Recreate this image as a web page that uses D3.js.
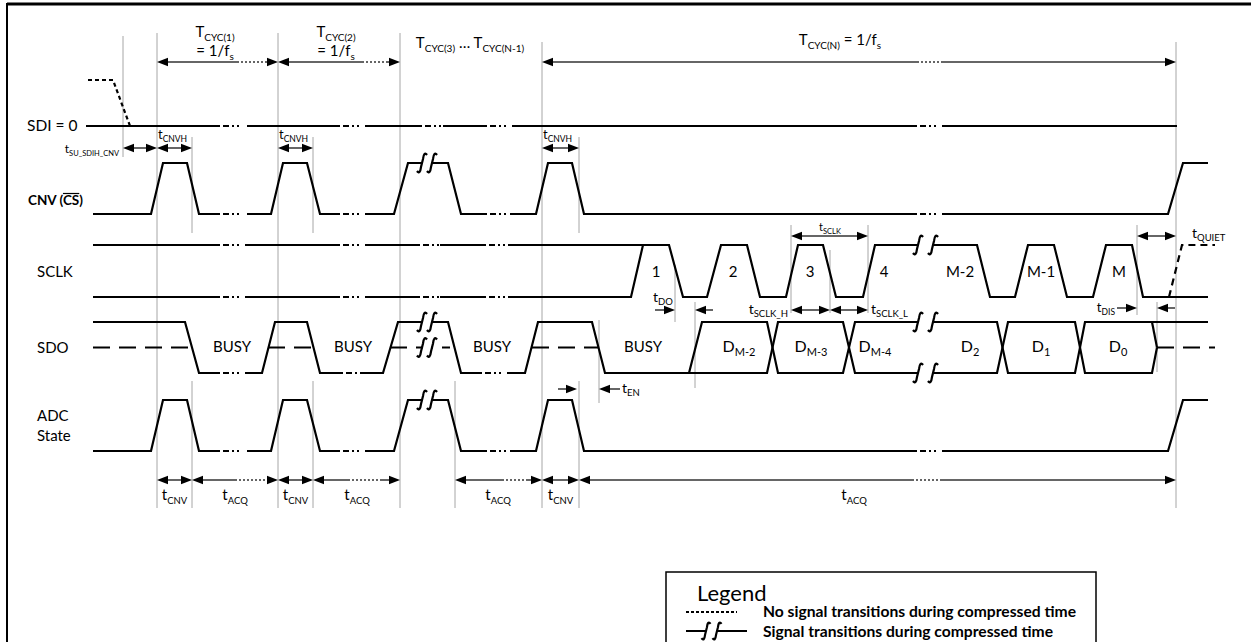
<!DOCTYPE html>
<html><head><meta charset="utf-8">
<script src="https://cdn.jsdelivr.net/npm/d3@7"></script>
<style>
html,body{margin:0;padding:0;background:#fff;}
svg{display:block;font-family:Lato,'Open Sans',sans-serif;}
</style></head><body>
<svg id="c" width="1251" height="642"></svg>
<script>
// ================= DATA (time units along the diagram) =================
const signalNames = ["SDI = 0", "CNV", "SCLK", "SDO", "ADC", "State"];
const sdiLevel = [[86,0],[1177,0]];
const sdiPreDashed = [[88,1],[113,1],[130,0]];
const cnvWave = [[93,0],[151,0],[163,1],[187,1],[199,0],[271,0],[283,1],[307,1],[320,0],[394,0],[408,1],[448,1],[461,0],[536,0],[548,1],[572,1],[584,0],[1168,0],[1183,1],[1208,1]];
const sclkIdleHigh = [[93,1],[643,1]];
const sclkWave = [[93,0],[631,0],[643,1],[669,1],[683,0],[707,0],[721,1],[747,1],[760,0],[786,0],[798,1],[823,1],[836,0],[863,0],[875,1],[977,1],[990,0],[1015,0],[1028,1],[1054,1],[1067,0],[1093,0],[1106,1],[1132,1],[1143,0],[1208,0]];
const sclkQuietDashed = [[1169,0],[1182,1],[1215,1]];
const sclkPulseLabels = ["1","2","3","4","M-2","M-1","M"];
const sclkPulseTimes = [656,733,810,884,960,1041,1119];
const sdoWaveA = [[93,1],[185,1],[199,0],[262,0],[275,1],[307,1],[320,0],[383,0],[398,1],[448,1],[461,0],[525,0],[538,1],[592,1],[605,0],[767,0],[778,1],[843,1],[855,0],[997,0],[1008,1],[1075,1],[1085,0],[1152,0],[1157,0.5]];
const sdoWaveB = [[689,0],[702,1],[767,1],[778,0],[843,0],[855,1],[997,1],[1008,0],[1075,0],[1085,1],[1208,1]];
const sdoD0Close = [[1152,1],[1157,0.5]];
const sdoTriState = [[93,190],[268,313],[390,450],[532,598],[1157,1215]];
const busyTimes = [232,353,492,643];
const dataLabels = ["D_{M-2}","D_{M-3}","D_{M-4}","D_{2}","D_{1}","D_{0}"];
const dataTimes = [739,811,875,970,1041,1118];
const adcWave = [[93,0],[151,0],[163,1],[187,1],[199,0],[271,0],[283,1],[307,1],[320,0],[394,0],[408,1],[448,1],[461,0],[536,0],[548,1],[572,1],[584,0],[1168,0],[1183,1],[1208,1]];

// compressed-time gaps [t0, t1, level]
const sdiGaps = [[220,247,0],[340,365,0],[422,443,0],[487,512,0],[917,942,0]];
const cnvGaps = [[220,247,0],[340,365,0],[487,510,0],[917,942,0]];
const sclkGaps = [[220,245,1],[340,365,1],[420,440,1],[486,508,1],[220,245,0],[340,365,0],[420,440,0],[486,508,0]];
const sdoGaps = [[220,245,0],[343,362,0],[482,507,0]];
const adcGaps = [[220,247,0],[340,365,0],[487,510,0],[917,942,0]];
// signal-transition breaks [t0, t1, level]
const cnvBreaks = [[422,432,1]];
const sclkBreaks = [[918,933,1]];
const sdoBreaks = [[422,432,1],[422,432,0.5],[918,933,1],[918,933,0]];
const adcBreaks = [[422,432,1]];

// timing spans [start, end, dottedStart, dottedEnd]
const tcycSpans = [[157,278,237,267],[278,400,362,388],[542,1176,917,942]];
const tcycLabels = ["T_{CYC(1)}","T_{CYC(2)}","T_{CYC(3)} … T_{CYC(N-1)}","T_{CYC(N)} = 1/f_{s}"];
const tsuSpan = [123,157];
const tcnvhSpans = [[157,192],[278,313],[542,579]];
const tcnvSpans = [[157,192],[278,313],[542,579]];
const tacqSpans = [[192,278,235,267],[313,400,348,380],[455,542,502,526],[579,1176,912,940]];
const tacqLabelTimes = [235,357,498,854];
const tsclkSpan = [791,868];
const tsclkHSpan = [791,830];
const tsclkLSpan = [830,868];
const tquietSpan = [1137,1176];
const legendItems = ["No signal transitions during compressed time","Signal transitions during compressed time"];

// ================= SCALES =================
const svg = d3.select('#c');
const x = d3.scaleLinear().domain([0,1251]).range([0,1251]);
const row = (low, high) => d3.scaleLinear().domain([0,1]).range([low, high]);
const ySDI = row(126,80), yCNV = row(214,163), ySCLK = row(297,245), ySDO = row(373,322), yADC = row(451,400);
const yBottomArrow = 480, yBottomLabel = 500, yGuideEnd = 508;

const FG = '#000', GUIDE = '#a6a6a6', ARW = '#333';
const WW = 2.2;

// frame
svg.append('line').attr('x1',7).attr('x2',1251).attr('y1',4).attr('y2',4).attr('stroke','#000').attr('stroke-width',3);
svg.append('line').attr('x1',7).attr('x2',7).attr('y1',3).attr('y2',642).attr('stroke','#000').attr('stroke-width',2);

// ================= GUIDES =================
const gG = svg.append('g').attr('stroke',GUIDE).attr('stroke-width',1);
function vguide(t, y0, y1){ gG.append('line').attr('x1',x(t)).attr('x2',x(t)).attr('y1',y0).attr('y2',y1); }
[157,278,400].forEach(t=>vguide(t,33,yGuideEnd));
[542,1176].forEach(t=>vguide(t,42,yGuideEnd));
vguide(123,36,157);
[192,313,579].forEach(t=>{ vguide(t,137,233); vguide(t,381,yGuideEnd); });
vguide(455,381,yGuideEnd);
vguide(599,320,403);
vguide(675,265,322);
vguide(695,302,388);
vguide(791,225,313);
vguide(830,250,313);
vguide(868,225,313);
vguide(1137,225,315);
vguide(1157,302,372);

// ================= WAVEFORMS =================
const gW = svg.append('g').attr('fill','none').attr('stroke',FG).attr('stroke-width',WW).attr('stroke-linejoin','miter');
function wave(data, ys, dash){
  const p = gW.append('path').attr('d', d3.line().x(d=>x(d[0])).y(d=>ys(d[1]))(data));
  if (dash) p.attr('stroke-dasharray', dash);
  return p;
}
wave(sdiLevel, ySDI);
wave(sdiPreDashed, ySDI, '4,3');
wave(cnvWave, yCNV);
wave(sclkIdleHigh, ySCLK);
wave(sclkWave, ySCLK);
wave(sclkQuietDashed, ySCLK, '7,5');
wave(sdoWaveA, ySDO);
wave(sdoWaveB, ySDO);
wave(sdoD0Close, ySDO);
sdoTriState.forEach(s => wave([[s[0],0.5],[s[1],0.5]], ySDO, '17,9'));
wave(adcWave, yADC);

// compressed-time gaps
const gGap = svg.append('g');
function gaps(list, ys){
  list.forEach(([t0,t1,lv])=>{
    const y = ys(lv), x0 = x(t0), x1 = x(t1);
    gGap.append('rect').attr('x',x0).attr('y',y-3).attr('width',x1-x0).attr('height',6).attr('fill','#fff');
    gGap.append('line').attr('x1',x0).attr('x2',x1).attr('y1',y).attr('y2',y)
      .attr('stroke',FG).attr('stroke-width',WW).attr('stroke-dasharray',`0,3,6,3,2,3,2,${Math.max(2,x1-x0-19)}`);
  });
}
gaps(sdiGaps, ySDI); gaps(cnvGaps, yCNV); gaps(sclkGaps, ySCLK); gaps(sdoGaps, ySDO); gaps(adcGaps, yADC);

// signal transition breaks (double integral symbol)
function integral(g, px, py, s){
  s = s || 1;
  g.append('path').attr('d', `M${px-5*s},${py+8*s} Q${px-2*s},${py+12*s} ${px-1*s},${py+4*s} L${px+1*s},${py-4*s} Q${px+2*s},${py-12*s} ${px+5*s},${py-8*s}`)
    .attr('fill','none').attr('stroke',FG).attr('stroke-width',WW);
}
function breaks(list, ys){
  list.forEach(([t0,t1,lv])=>{
    const y = ys(lv), x0 = x(t0), x1 = x(t1);
    gGap.append('rect').attr('x',x0+0.5).attr('y',y-3).attr('width',x1-x0-1).attr('height',6).attr('fill','#fff');
    integral(gGap, x0, y); integral(gGap, x1, y);
  });
}
breaks(cnvBreaks, yCNV); breaks(sclkBreaks, ySCLK); breaks(sdoBreaks, ySDO); breaks(adcBreaks, yADC);

// ================= TEXT =================
const gT = svg.append('g').attr('fill','#000');
function rich(str, px, py, size, anchor, opts){
  opts = opts || {};
  const sub = opts.sub || size*0.68, dy = size*0.24;
  const t = gT.append('text').attr('x',px).attr('y',py).attr('font-size',size).attr('text-anchor',anchor||'start');
  if (opts.weight) t.attr('font-weight', opts.weight);
  const re = /_\{([^}]*)\}/g; let last = 0, m, shifted = false;
  while ((m = re.exec(str))) {
    if (m.index > last) { t.append('tspan').attr('dy', shifted ? -dy : 0).text(str.slice(last, m.index)); shifted = false; }
    t.append('tspan').attr('font-size', sub).attr('dy', shifted ? 0 : dy).text(m[1]); shifted = true;
    last = re.lastIndex;
  }
  if (last < str.length) t.append('tspan').attr('dy', shifted ? -dy : 0).text(str.slice(last));
  return t;
}

// ================= ARROWS =================
const gA = svg.append('g');
const AL = 11, AW = 4.3;
function head(px, py, dir){
  gA.append('path').attr('d',`M${px},${py}L${px-dir*AL},${py-AW}L${px-dir*AL},${py+AW}Z`).attr('fill','#000');
}
function seg(a, b, y, dash){
  const l = gA.append('line').attr('x1',a).attr('x2',b).attr('y1',y).attr('y2',y).attr('stroke',ARW).attr('stroke-width',1.5);
  if (dash) l.attr('stroke-dasharray', dash);
}
function dim(t0, t1, y, o){
  o = o || {};
  const start = o.start !== false, end = o.end !== false;
  const x0 = x(t0), x1 = x(t1);
  const a = start ? x0 + AL - 1 : x0, b = end ? x1 - AL + 1 : x1;
  if (o.dotted) { seg(a, x(o.dotted[0]), y); seg(x(o.dotted[0]), x(o.dotted[1]), y, '2,2'); seg(x(o.dotted[1]), b, y); }
  else seg(a, b, y);
  if (start) head(x0, y, -1);
  if (end) head(x1, y, 1);
}

tcycSpans.forEach(s => dim(s[0], s[1], 62, {dotted:[s[2],s[3]]}));
dim(tsuSpan[0], tsuSpan[1], 148);
tcnvhSpans.forEach(s => dim(s[0], s[1], 148));
tcnvSpans.forEach(s => dim(s[0], s[1], yBottomArrow));
tacqSpans.forEach(s => dim(s[0], s[1], yBottomArrow, {dotted:[s[2],s[3]]}));
dim(tsclkSpan[0], tsclkSpan[1], 236);
dim(tsclkHSpan[0], tsclkHSpan[1], 310);
dim(tsclkLSpan[0], tsclkLSpan[1], 310);
dim(tquietSpan[0], tquietSpan[1], 236);
dim(558, 577, 389, {start:false});
dim(599, 620, 389, {end:false});
dim(655, 675, 310, {start:false});
dim(695, 713, 310, {end:false});
dim(1117, 1137, 308, {start:false});
dim(1157, 1175, 308, {end:false});

// ---- timing labels ----
rich(tcycLabels[0], x(215), 37, 15, 'middle', {sub:10});
rich("= 1/f_{s}", x(215), 56, 15, 'middle', {sub:10});
rich(tcycLabels[1], x(336), 37, 15, 'middle', {sub:10});
rich("= 1/f_{s}", x(336), 56, 15, 'middle', {sub:10});
rich(tcycLabels[2], x(470), 48, 15, 'middle', {sub:10});
rich(tcycLabels[3], x(840), 45, 15, 'middle', {sub:10});
rich("t_{SU_SDIH_CNV}", x(119), 153, 12, 'end', {sub:7.5});
tcnvhSpans.forEach(s => rich("t_{CNVH}", x(s[0])+1, 139, 13, 'start', {sub:8.5}));
tcnvSpans.forEach(s => rich("t_{CNV}", x((s[0]+s[1])/2), yBottomLabel, 15, 'middle', {sub:9.5}));
tacqLabelTimes.forEach(t => rich("t_{ACQ}", x(t), yBottomLabel, 15, 'middle', {sub:9.5}));
rich("t_{SCLK}", x(830), 231, 11, 'middle', {sub:7.5});
rich("t_{SCLK_H}", x(788), 314, 14, 'end', {sub:9.5});
rich("t_{SCLK_L}", x(871), 314, 14, 'start', {sub:9.5});
rich("t_{DO}", x(653), 302, 14, 'start', {sub:9.5});
rich("t_{EN}", x(622), 393, 14, 'start', {sub:9.5});
rich("t_{DIS}", x(1115), 312, 13, 'end', {sub:8.5});
rich("t_{QUIET}", x(1192), 238, 14, 'start', {sub:9.5});

// ---- signal names ----
rich(signalNames[0], 27, 131, 15.5, 'start');
const cnvT = gT.append('text').attr('x',28).attr('y',205).attr('font-size',13.5).attr('font-weight','bold');
cnvT.append('tspan').text(signalNames[1] + ' (');
const csSpan = cnvT.append('tspan').text('CS');
cnvT.append('tspan').text(')');
{
  const n = csSpan.node();
  const a = n.getStartPositionOfChar(0).x, b = n.getEndPositionOfChar(1).x;
  gT.append('line').attr('x1',a).attr('x2',b).attr('y1',193.5).attr('y2',193.5).attr('stroke','#000').attr('stroke-width',1.2);
}
rich(signalNames[2], 37, 277, 15, 'start');
rich(signalNames[3], 37, 353, 15, 'start');
rich(signalNames[4], 37, 421, 15, 'start');
rich(signalNames[5], 37, 441, 15, 'start');

// ---- in-waveform labels ----
sclkPulseLabels.forEach((s,i) => rich(s, x(sclkPulseTimes[i]), 277, 15, 'middle'));
busyTimes.forEach(t => rich("BUSY", x(t), 352, 15, 'middle'));
dataLabels.forEach((s,i) => rich(s, x(dataTimes[i]), 352, 16, 'middle', {sub:11}));

// ================= LEGEND =================
const lg = svg.append('g');
lg.append('rect').attr('x',666).attr('y',572).attr('width',430).attr('height',78).attr('fill','none').attr('stroke','#000').attr('stroke-width',1.5);
lg.append('text').attr('x',697).attr('y',601).attr('font-size',22).text('Legend');
lg.append('line').attr('x1',686).attr('x2',737).attr('y1',612).attr('y2',612).attr('stroke','#000').attr('stroke-width',2).attr('stroke-dasharray','3,2');
lg.append('text').attr('x',763).attr('y',617).attr('font-size',15).attr('font-weight','bold')
  .attr('textLength',313).attr('lengthAdjust','spacingAndGlyphs').text(legendItems[0]);
lg.append('line').attr('x1',686).attr('x2',706).attr('y1',631).attr('y2',631).attr('stroke','#000').attr('stroke-width',2);
lg.append('line').attr('x1',717).attr('x2',747).attr('y1',631).attr('y2',631).attr('stroke','#000').attr('stroke-width',2);
integral(lg, 706, 631, 0.9); integral(lg, 717, 631, 0.9);
lg.append('text').attr('x',763).attr('y',637).attr('font-size',15).attr('font-weight','bold')
  .attr('textLength',290).attr('lengthAdjust','spacingAndGlyphs').text(legendItems[1]);
</script>
</body></html>
